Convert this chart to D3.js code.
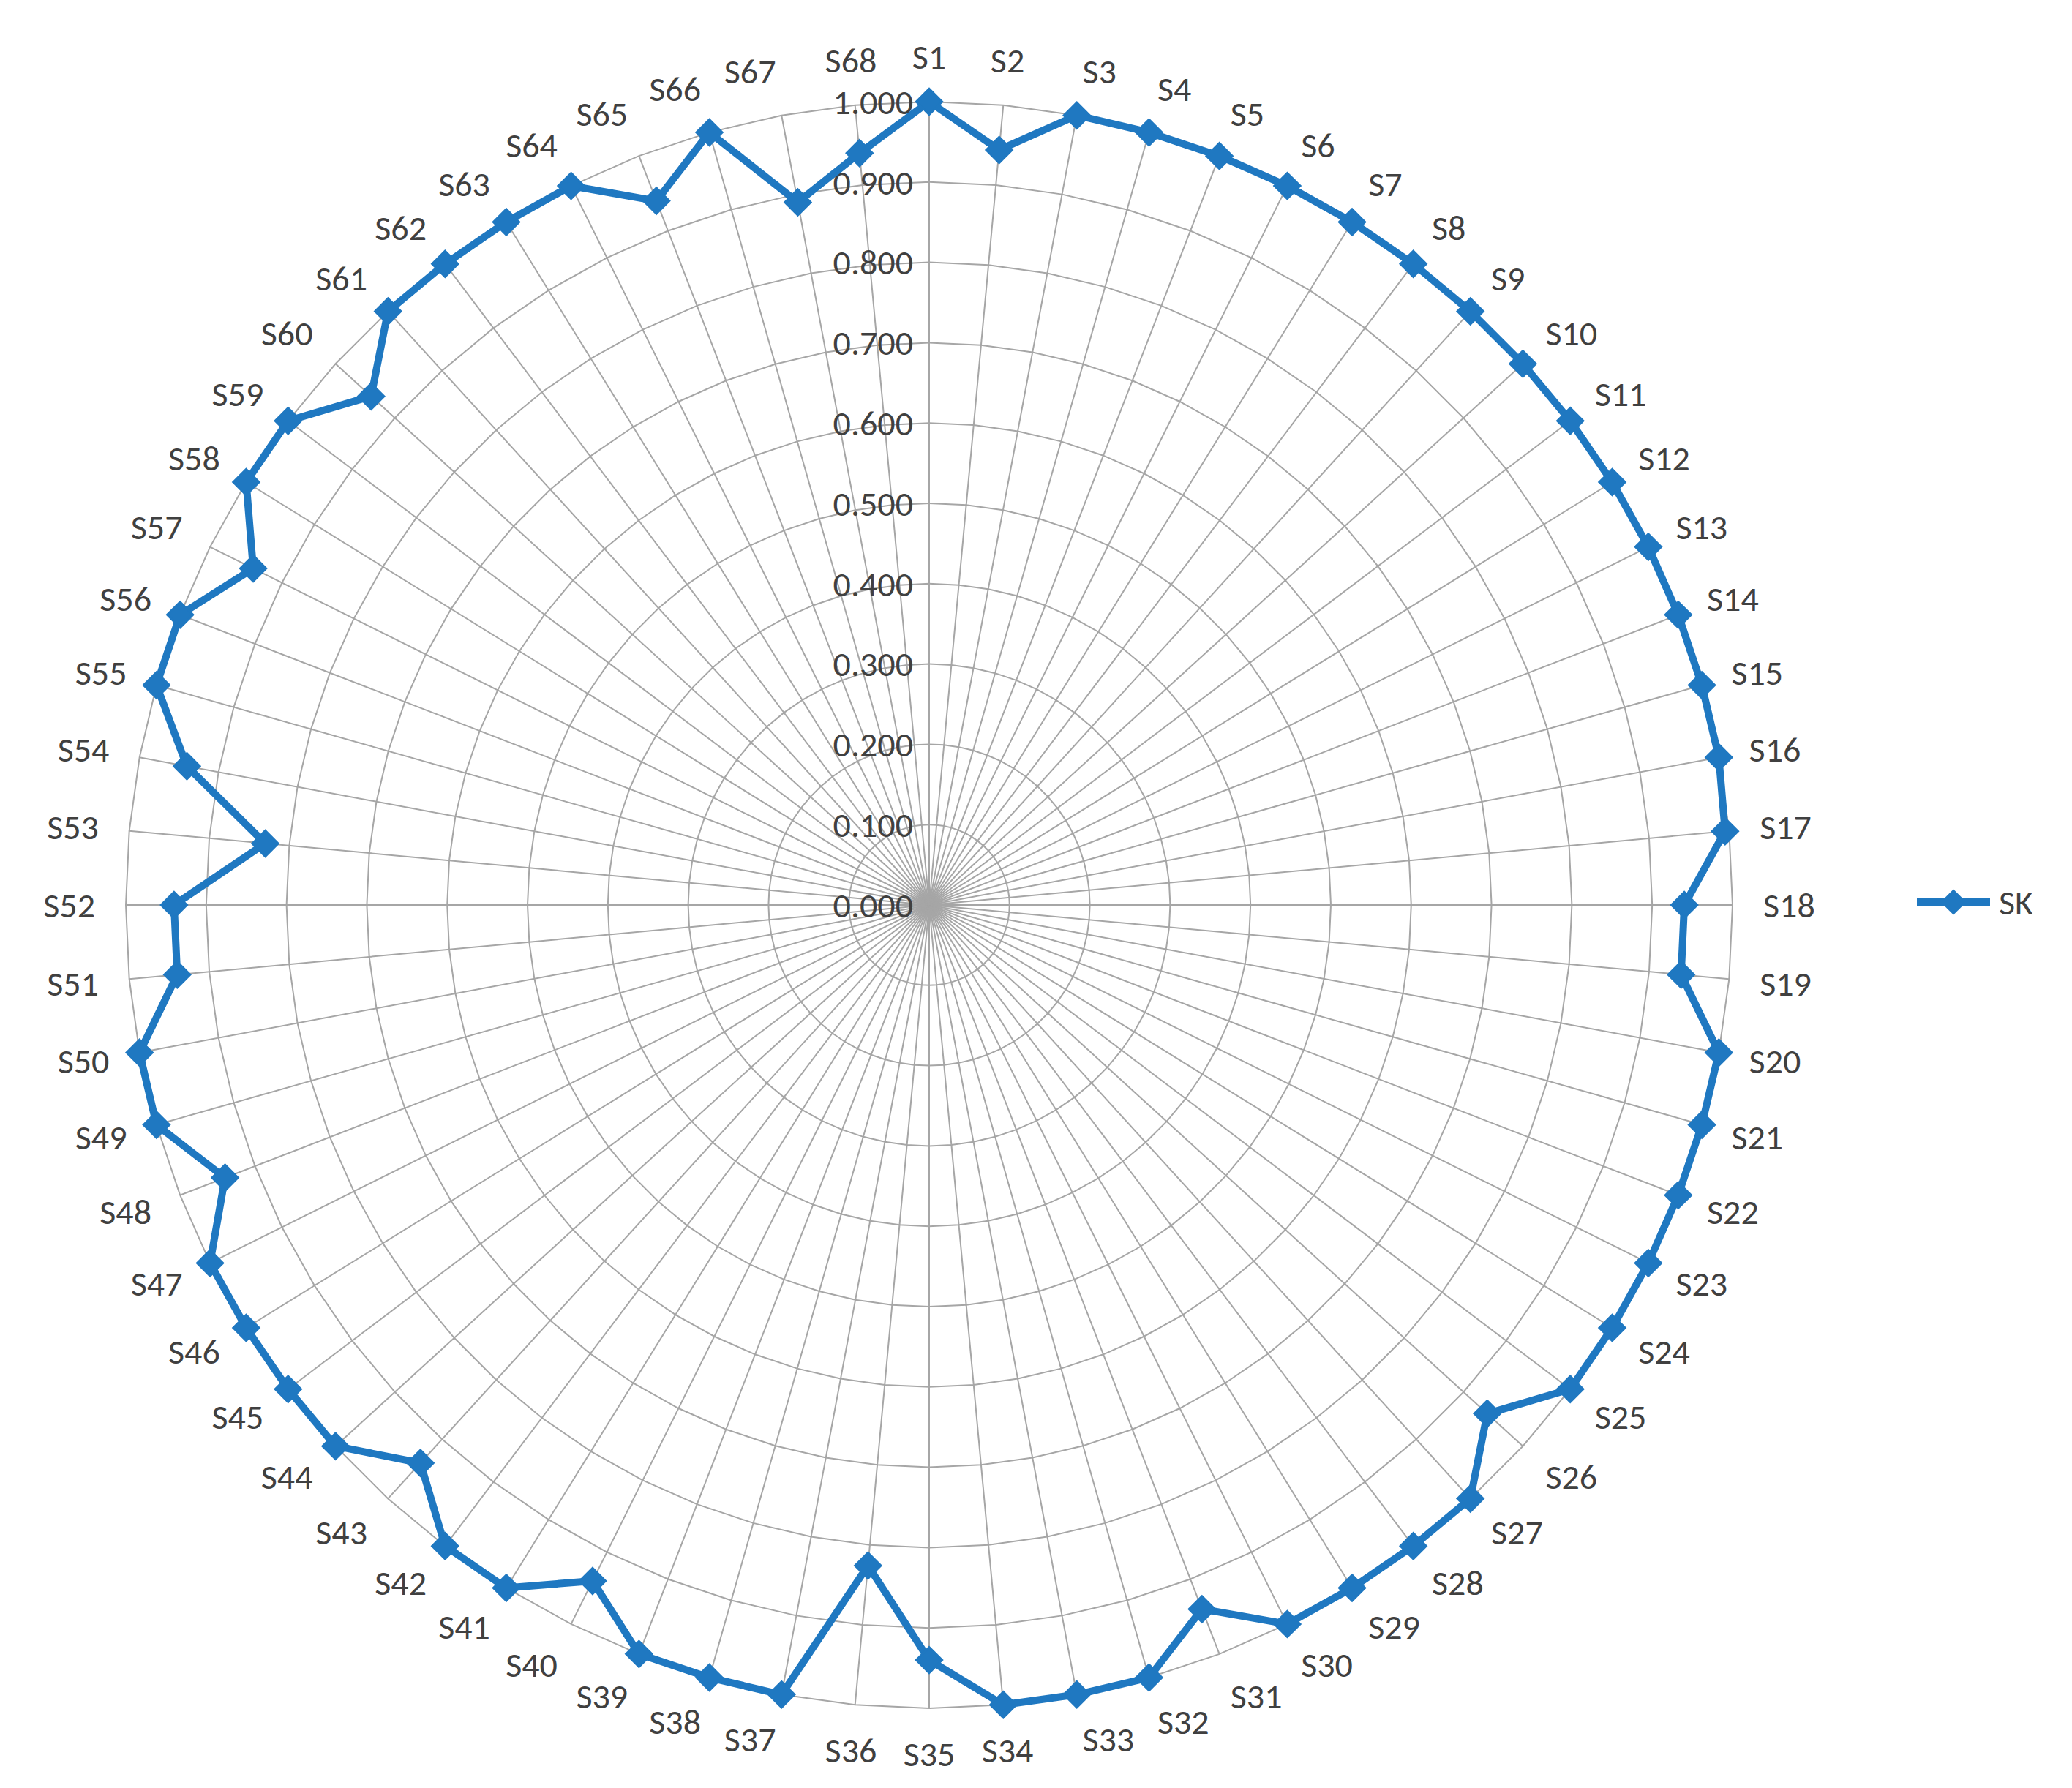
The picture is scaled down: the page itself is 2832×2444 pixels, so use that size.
<!DOCTYPE html>
<html><head><meta charset="utf-8">
<script src="https://cdn.jsdelivr.net/npm/d3@7"></script>
<style>body{margin:0;background:#fff}text{font-family:Calibri,"Liberation Sans Narrow","Open Sans",sans-serif}</style>
</head><body><svg id="c" width="2832" height="2444"></svg>
<script>
const categories = d3.range(1,69).map(i=>"S"+i);
const seriesName = "SK";
const values = [1.0,0.944,1.0,1.0,1.0,1.0,1.0,1.0,1.0,1.0,1.0,1.0,1.0,1.0,1.0,1.0,0.995,0.94,0.94,1.0,
1.0,1.0,1.0,1.0,1.0,0.94,1.0,1.0,1.0,1.0,0.94,1.0,1.0,1.0,0.94,0.826,1.0,1.0,1.0,0.94,
1.0,1.0,0.94,1.0,1.0,1.0,1.0,0.94,1.0,1.0,0.94,0.94,0.83,0.94,1.0,1.0,0.94,1.0,1.0,0.94,
1.0,1.0,1.0,1.0,0.94,1.0,0.89,0.94];
const tickLabels = ["0.000","0.100","0.200","0.300","0.400","0.500","0.600","0.700","0.800","0.900","1.000"];

const svg = d3.select("#c");
const cx=1270, cy=1237, R=1098;
const r = d3.scaleLinear().domain([0,1]).range([0,R]);
const ang = d3.scaleLinear().domain([0,categories.length]).range([0,2*Math.PI]);
const g = svg.append("g").attr("transform",`translate(${cx},${cy})`);
const pt=(i,v)=>[r(v)*Math.sin(ang(i)), -r(v)*Math.cos(ang(i))];

// grid polygons
tickLabels.forEach((t,k)=>{
  const v=k/10; if(v===0) return;
  g.append("path").attr("d", d3.line()(categories.map((c,i)=>pt(i,v)))+"Z")
   .attr("fill","none").attr("stroke","#a6a6a6").attr("stroke-width",2);
});
// spokes
categories.forEach((c,i)=>{
  const p=pt(i,1);
  g.append("line").attr("x1",0).attr("y1",0).attr("x2",p[0]).attr("y2",p[1])
   .attr("stroke","#a6a6a6").attr("stroke-width",2);
});
// tick labels
tickLabels.forEach((t,k)=>{
  g.append("text").attr("x",-22).attr("y",-r(k/10)).attr("dy","0.35em")
   .attr("text-anchor","end").attr("font-size",48).attr("fill","#404040").text(t);
});
// category labels
categories.forEach((c,i)=>{
  const a=ang(i), rr=R+62;
  const x=rr*Math.sin(a), y=-rr*Math.cos(a);
  const s=Math.sin(a);
  g.append("text").attr("x",x).attr("y",y).attr("dy","0.35em")
   .attr("text-anchor", Math.abs(s)<0.15?"middle":(s>0?"start":"end"))
   .attr("dx", Math.abs(s)<0.15?0:(s>0?-20:20)*Math.abs(s))
   .attr("font-size",48).attr("fill","#404040").text(c);
});
// series
const color="#1f78c1";
const pts=values.map((v,i)=>pt(i,v));
g.append("path").attr("d",d3.line()(pts)+"Z").attr("fill","none")
 .attr("stroke",color).attr("stroke-width",10).attr("stroke-linejoin","round");
const diamond=d3.symbol().type(d3.symbolDiamond2).size(900);
g.selectAll(".m").data(pts).join("path").attr("transform",d=>`translate(${d[0]},${d[1]}) rotate(0)`)
 .attr("d",d3.symbol().type(d3.symbolSquare).size(620)).attr("transform",d=>`translate(${d[0]},${d[1]}) rotate(45)`)
 .attr("fill",color).attr("stroke",color).attr("stroke-width",3);
// legend
const lg=svg.append("g").attr("transform","translate(2620,1233)");
lg.append("line").attr("x1",0).attr("x2",100).attr("stroke",color).attr("stroke-width",10);
lg.append("path").attr("d",d3.symbol().type(d3.symbolSquare).size(620)).attr("transform","translate(50,0) rotate(45)").attr("fill",color);
lg.append("text").attr("x",112).attr("dy","0.35em").attr("font-size",48).attr("fill","#404040").text(seriesName);
</script></body></html>
